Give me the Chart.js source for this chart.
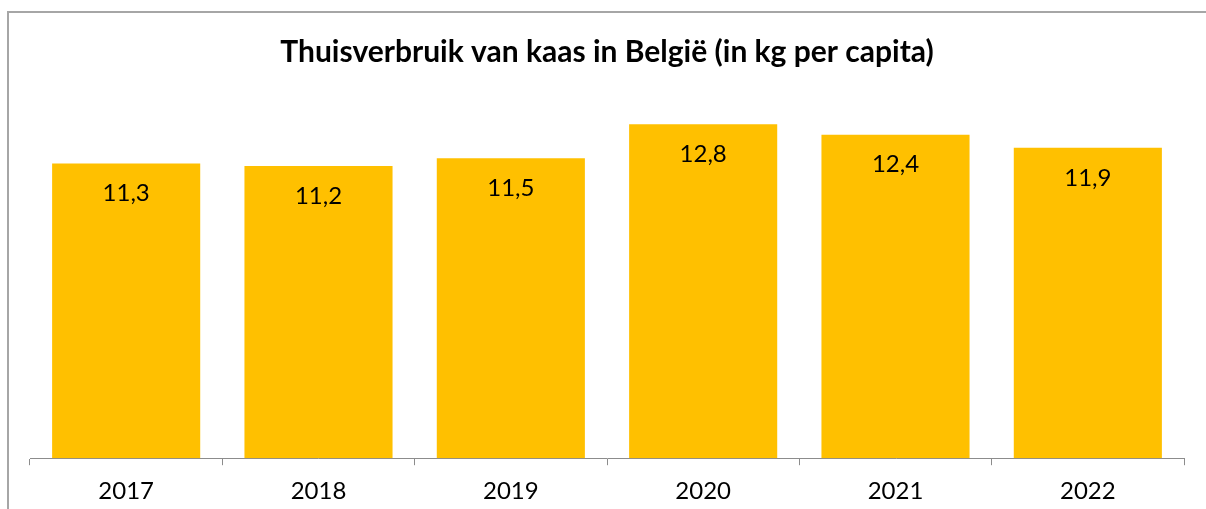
<!DOCTYPE html>
<html lang="nl">
<head>
<meta charset="UTF-8">
<title>Thuisverbruik van kaas</title>
<script src="https://cdn.jsdelivr.net/npm/chart.js@4.4.0/dist/chart.umd.min.js"></script>
<style>
  html, body { margin: 0; padding: 0; background: #fff; overflow: hidden; }
  canvas { display: block; }
</style>
</head>
<body>
<canvas id="chart" width="1206" height="509"></canvas>
<script>
// data
const years = ['2017', '2018', '2019', '2020', '2021', '2022'];
const kgPerCapita = [11.3, 11.2, 11.5, 12.8, 12.4, 11.9];
const titleText = 'Thuisverbruik van kaas in België (in kg per capita)';

const FONT = 'Lato, "Open Sans", sans-serif';

// grey frame: only the top and left edges show in the picture
const frame = {
  id: 'frame',
  beforeDraw(chart) {
    const c = chart.ctx;
    c.save();
    c.fillStyle = '#fff';
    c.fillRect(0, 0, chart.width, chart.height);
    c.fillStyle = '#a6a6a6';
    c.fillRect(7, 11, 2, chart.height - 11);
    c.fillRect(7, 11, chart.width - 7, 2);
    c.restore();
  }
};

// value labels inside the bars, with comma decimals
const valueLabels = {
  id: 'valueLabels',
  afterDatasetsDraw(chart) {
    const c = chart.ctx;
    const meta = chart.getDatasetMeta(0);
    c.save();
    c.font = '24px ' + FONT;
    c.fillStyle = '#000';
    c.textAlign = 'center';
    c.textBaseline = 'middle';
    meta.data.forEach((bar, i) => {
      const txt = kgPerCapita[i].toFixed(1).replace('.', ',');
      c.fillText(txt, bar.x, bar.y + 30);
    });
    c.restore();
  }
};

new Chart(document.getElementById('chart'), {
  type: 'bar',
  data: {
    labels: years,
    datasets: [{
      data: kgPerCapita,
      backgroundColor: '#ffc000',
      borderWidth: 0,
      barPercentage: 0.77,
      categoryPercentage: 1
    }]
  },
  options: {
    responsive: false,
    animation: false,
    layout: { padding: { left: 30, right: 22, top: 0, bottom: -9 } },
    plugins: {
      legend: { display: false },
      tooltip: { enabled: false },
      title: {
        display: true,
        text: titleText,
        color: '#000',
        font: { family: FONT, size: 30, weight: 'bold' },
        padding: { top: 34, bottom: 23 }
      }
    },
    scales: {
      x: {
        offset: true,
        grid: {
          offset: true,
          drawOnChartArea: false,
          drawTicks: true,
          tickLength: 7,
          color: '#8c8c8c'
        },
        border: { color: '#8c8c8c', width: 1 },
        ticks: {
          color: '#000',
          padding: 12,
          font: { family: FONT, size: 24 }
        }
      },
      y: {
        display: false,
        min: 0,
        max: 14
      }
    }
  },
  plugins: [frame, valueLabels]
});
</script>
</body>
</html>
